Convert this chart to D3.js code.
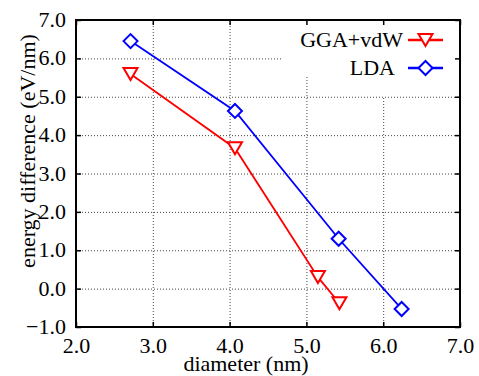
<!DOCTYPE html>
<html>
<head>
<meta charset="utf-8">
<script src="https://cdn.jsdelivr.net/npm/d3@7"></script>
<style>
  body { margin: 0; background: #fff; }
  svg { display: block; }
</style>
</head>
<body>
<svg width="479" height="376" font-family="Liberation Serif"></svg>
<script>
// data
const ggaDiameter = [2.71, 4.07, 5.15, 5.43]
const ggaEnergy = [5.59, 3.66, 0.30, -0.38]
const ldaDiameter = [2.71, 4.07, 5.42, 6.24]
const ldaEnergy = [6.45, 4.63, 1.30, -0.53]
const xTicks = [2, 3, 4, 5, 6, 7]
const yTicks = [-1, 0, 1, 2, 3, 4, 5, 6, 7]
const seriesNames = ['GGA+vdW', 'LDA']

const FONT = 'Liberation Serif'
const svg = d3.select('svg')
const pl = 76, pr = 460, pt = 20, pb = 327

const x = d3.scaleLinear().domain([2, 7]).range([pl, pr])
const y = d3.scaleLinear().domain([-1, 7]).range([pb, pt])

const series = [
  { name: seriesNames[0], color: '#ff0000', marker: 'tri',
    pts: ggaDiameter.map((d, i) => [d, ggaEnergy[i]]) },
  { name: seriesNames[1], color: '#0000ff', marker: 'dia',
    pts: ldaDiameter.map((d, i) => [d, ldaEnergy[i]]) }
]

// grid
const grid = svg.append('g')
  .attr('stroke', '#444')
  .attr('stroke-width', 1)
  .attr('stroke-dasharray', '1,2')
grid.selectAll('line.gx')
  .data(xTicks.slice(1, -1))
  .enter().append('line')
    .attr('x1', d => x(d) + 0.5).attr('x2', d => x(d) + 0.5)
    .attr('y1', pt).attr('y2', pb)
grid.selectAll('line.gy')
  .data(yTicks.slice(1, -1))
  .enter().append('line')
    .attr('x1', pl).attr('x2', pr)
    .attr('y1', d => y(d) + 0.5).attr('y2', d => y(d) + 0.5)

// legend area hides the grid
svg.append('rect').attr('x', 283).attr('y', pt).attr('width', pr - 283).attr('height', 57).attr('fill', '#fff')
svg.append('rect').attr('x', 370).attr('y', pt).attr('width', pr - 370).attr('height', 76).attr('fill', '#fff')

// axes: inner ticks on all sides
const tickFmt = d3.format('.1f')
const fontSize = 22
const axB = svg.append('g').attr('transform', `translate(0,${pb})`)
  .call(d3.axisBottom(x).tickValues(xTicks).tickSize(-5).tickPadding(11).tickFormat(tickFmt))
const axT = svg.append('g').attr('transform', `translate(0,${pt})`)
  .call(d3.axisTop(x).tickValues(xTicks).tickSize(-5).tickFormat(''))
const axL = svg.append('g').attr('transform', `translate(${pl},0)`)
  .call(d3.axisLeft(y).tickValues(yTicks).tickSize(-5).tickPadding(10).tickFormat(tickFmt))
const axR = svg.append('g').attr('transform', `translate(${pr},0)`)
  .call(d3.axisRight(y).tickValues(yTicks).tickSize(-5).tickFormat(''))

;[axB, axT, axL, axR].forEach(a => {
  a.attr('font-family', FONT)
  a.select('.domain').remove()
  a.selectAll('.tick line').attr('stroke', '#000').attr('stroke-width', 1.5)
  a.selectAll('.tick text')
    .attr('font-family', FONT)
    .attr('font-size', fontSize)
    .attr('fill', '#000')
})
axL.selectAll('.tick text').attr('dy', '0.3em')
axB.selectAll('.tick text').attr('dy', '0.7em')

svg.append('rect')
  .attr('x', pl).attr('y', pt)
  .attr('width', pr - pl).attr('height', pb - pt)
  .attr('fill', 'none').attr('stroke', '#000').attr('stroke-width', 2)

// axis titles
svg.append('text')
  .attr('x', 246).attr('y', 371)
  .attr('text-anchor', 'middle')
  .attr('font-family', FONT)
  .attr('font-size', fontSize)
  .text('diameter (nm)')
svg.append('text')
  .attr('transform', 'translate(35,151) rotate(-90)')
  .attr('text-anchor', 'middle')
  .attr('font-family', FONT)
  .attr('font-size', fontSize)
  .text('energy difference (eV/nm)')

// markers
function drawMarker(g, type, color, cx, cy) {
  if (type === 'tri') {
    g.append('path')
      .attr('d', `M${cx - 7},${cy - 6}L${cx + 7},${cy - 6}L${cx},${cy + 6}Z`)
      .attr('fill', '#fff').attr('stroke', color).attr('stroke-width', 2)
  } else {
    g.append('path')
      .attr('d', `M${cx - 7},${cy}L${cx},${cy - 7}L${cx + 7},${cy}L${cx},${cy + 7}Z`)
      .attr('fill', '#fff').attr('stroke', color).attr('stroke-width', 2)
  }
}

const line = d3.line().x(d => x(d[0])).y(d => y(d[1]))

series.forEach(s => {
  const g = svg.append('g')
  g.append('path')
    .attr('d', line(s.pts))
    .attr('fill', 'none')
    .attr('stroke', s.color)
    .attr('stroke-width', 1.8)
  s.pts.forEach(p => drawMarker(g, s.marker, s.color, x(p[0]), y(p[1])))
})

// legend
const legY = [40, 68]
const legEnd = [403, 395]
series.forEach((s, i) => {
  svg.append('text')
    .attr('x', legEnd[i]).attr('y', legY[i])
    .attr('dy', '0.33em')
    .attr('text-anchor', 'end')
    .attr('font-family', FONT)
    .attr('font-size', fontSize)
    .text(s.name)
  svg.append('line')
    .attr('x1', 408).attr('x2', 443)
    .attr('y1', legY[i]).attr('y2', legY[i])
    .attr('stroke', s.color).attr('stroke-width', 2.5)
  drawMarker(svg, s.marker, s.color, 425.5, legY[i])
})
</script>
</body>
</html>
